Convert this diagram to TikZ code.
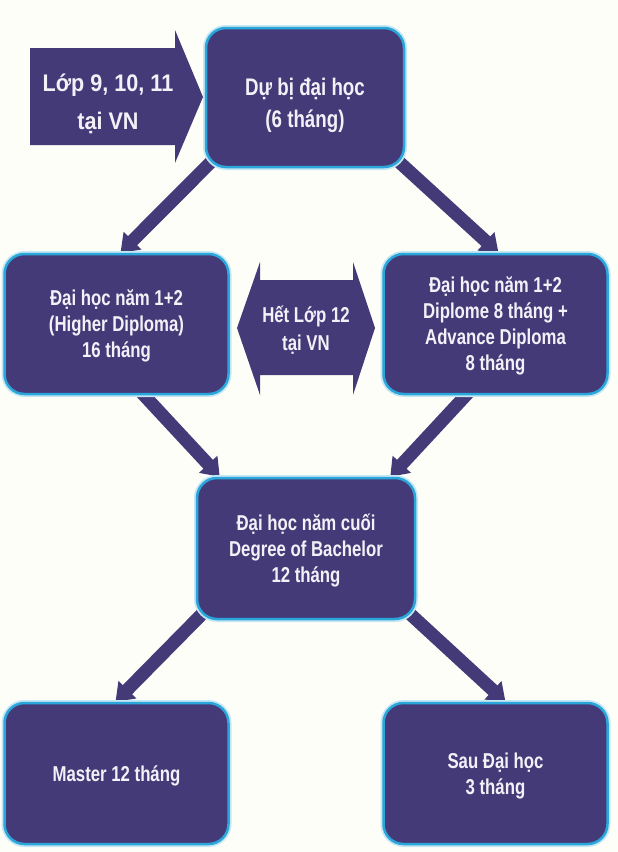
\documentclass[tikz,border=0pt]{standalone}
\usepackage{fontspec}
\setmainfont{Liberation Sans}[FakeStretch=0.78]
\newfontfamily\widefont{Liberation Sans}[FakeStretch=0.9]
\usetikzlibrary{calc,arrows.meta}
\definecolor{boxfill}{HTML}{453A78}
\definecolor{boxline}{HTML}{2AA6DA}
\definecolor{boxglow}{HTML}{C4E7F4}
\definecolor{paper}{HTML}{FEFEF9}
\definecolor{txt}{HTML}{F3F1F7}
\newcommand\bw{224}
\newcommand\bh{140}
\pgfdeclarelayer{back}
\pgfdeclarelayer{bg}
\pgfsetlayers{back,bg,main}
\tikzset{
	box/.style={draw=boxline, line width=2.5pt, fill=boxfill, rounded corners=20pt,
		text=txt, align=center, minimum width=\bw, minimum height=\bh, text depth=-4pt,
		font=\bfseries\fontsize{21.5}{26}\selectfont,
		preaction={draw=boxglow, line width=6pt}},
	conn/.style={draw=boxfill, line width=13pt, -{Triangle[width=24pt,length=17pt]}},
	blk/.style={fill=boxfill},
	lbl/.style={text=txt, align=center, font=\bfseries\fontsize{21.5}{28}\selectfont},
}

\begin{document}
\begin{tikzpicture}[x=1pt,y=-1pt]
\useasboundingbox (0,0) rectangle (618,852);
\begin{pgfonlayer}{back}
	\fill [paper] (0,0) rectangle (618,852);
\end{pgfonlayer}
% block arrows
\fill [blk] (30,48) -- (175,48) -- (175,30) -- (203,97) -- (175,163) -- (175,145) -- (30,145) -- cycle;
\fill [blk] (237,328) -- (260,262) -- (260,280) -- (353,280) -- (353,262) -- (375,328)
	-- (353,395) -- (353,375) -- (260,375) -- (260,395) -- cycle;
\node [lbl, font=\widefont\bfseries\fontsize{24}{38}\selectfont] (lop) at (108,104) {Lớp 9, 10, 11\\tại VN};
\node [lbl] (het) at (306,330) {Hết Lớp 12\\tại VN};
% boxes
\node [box, minimum width=198, minimum height=139, font=\bfseries\fontsize{24}{32}\selectfont] (dubi) at (305,97.5) {\rule{0pt}{27pt}Dự bị đại học\\(6 tháng)};
\node [box] (midL) at (116.5,324) {Đại học năm 1+2\\(Higher Diploma)\\16 tháng};
\node [box] (midR) at (495.5,324) {Đại học năm 1+2\\Diplome 8 tháng +\\Advance Diploma\\8 tháng};
\node [box, minimum width=218, minimum height=141] (bach) at (306,548.5) {Đại học năm cuối\\Degree of Bachelor\\12 tháng};
\node [box, minimum height=141] (master) at (116.5,773.5) {Master 12 tháng};
\node [box, minimum height=141] (sau) at (495.5,773.5) {Sau Đại học\\3 tháng};
% connectors
\begin{pgfonlayer}{bg}
\foreach \s/\sx/\sy/\t/\tx in {dubi.south west/8/-8/midL.north/4, dubi.south east/-8/-8/midR.north/3,
	midL.south/22/-6/bach.north west/24, midR.south/-24/-6/bach.north east/-26,
	bach.south west/8/-8/master.north/-1, bach.south east/-8/-8/sau.north/10} {
	\draw [conn] ($(\s)+(\sx,\sy)$) -- ($(\t)+(\tx,0)$);
}
\end{pgfonlayer}
\end{tikzpicture}
\end{document}
